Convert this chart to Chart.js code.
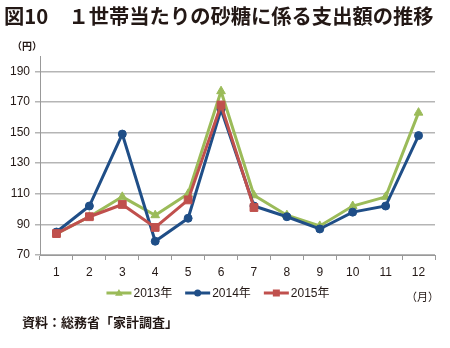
<!DOCTYPE html>
<html lang="ja">
<head>
<meta charset="utf-8">
<script src="https://cdn.jsdelivr.net/npm/chart.js@4.4.1/dist/chart.umd.min.js"></script>
<style>
  html, body { margin: 0; padding: 0; background: #fff; }
  body { width: 450px; height: 348px; position: relative; overflow: hidden;
         font-family: "Liberation Sans", "Noto Sans CJK JP", sans-serif; color: #231815; }
  #chart { position: absolute; left: 0; top: 0; }
  .txt { position: absolute; white-space: nowrap; line-height: 1; }
  #title { left: 4px; top: 5px; font-size: 20.3px; font-weight: bold; font-family: "Noto Sans CJK JP", sans-serif; }
  #unitY { left: 12px; top: 41px; font-size: 10px; font-weight: bold; font-family: "Noto Sans CJK JP", sans-serif; }
  #unitX { left: 406px; top: 291px; font-size: 11px; font-family: "Noto Sans CJK JP", sans-serif; }
  #source { left: 22px; top: 315px; font-size: 13px; font-weight: bold; font-family: "Noto Sans CJK JP", sans-serif; }
</style>
</head>
<body>
<canvas id="chart" width="450" height="348"></canvas>
<div class="txt" id="title">図10　１世帯当たりの砂糖に係る支出額の推移</div>
<div class="txt" id="unitY">（円）</div>
<div class="txt" id="unitX">（月）</div>
<div class="txt" id="source">資料：総務省「家計調査」</div>

<script>
// ============================================================
// 1世帯当たりの砂糖に係る支出額 (円/月)
// ============================================================

const months     = ['1', '2', '3', '4', '5', '6', '7', '8', '9', '10', '11', '12'];
const yTicks     = [70, 90, 110, 130, 150, 170, 190];
const seriesName = ['2013年', '2014年', '2015年'];
const sugar2013  = [84, 95, 108, 96, 110, 177, 109, 96, 89, 102, 108, 163];
const sugar2014  = [85, 102, 149, 79, 94, 165, 102, 95, 87, 98, 102, 148];
const sugar2015  = [84, 95, 103, 88, 106, 168, 101];

const FONT = '"Liberation Sans", "Noto Sans CJK JP", sans-serif';

// Excel-style legend: line with marker in the middle
function drawMarker(ctx, style, x, y, r, color) {
  ctx.fillStyle = color;
  ctx.beginPath();
  if (style === 'circle') {
    ctx.arc(x, y, r, 0, Math.PI * 2);
  } else if (style === 'rect') {
    ctx.rect(x - r, y - r, r * 2, r * 2);
  } else if (style === 'triangle') {
    ctx.moveTo(x, y - r * 1.15);
    ctx.lineTo(x + r * 1.1, y + r * 0.75);
    ctx.lineTo(x - r * 1.1, y + r * 0.75);
    ctx.closePath();
  }
  ctx.fill();
}

const lineLegend = {
  id: 'lineLegend',
  afterDraw(chart) {
    const ctx = chart.ctx;
    const y   = 293;
    ctx.save();
    ctx.font = '12px ' + FONT;
    ctx.textBaseline = 'middle';
    const widths = chart.data.datasets.map(d => 27 + ctx.measureText(d.label).width);
    const gap    = 13;
    const total  = widths.reduce((a, b) => a + b, 0) + gap * (widths.length - 1);
    let x = 218 - total / 2;
    chart.data.datasets.forEach((d, i) => {
      ctx.strokeStyle = d.borderColor;
      ctx.lineWidth = 3;
      ctx.beginPath();
      ctx.moveTo(x, y);
      ctx.lineTo(x + 25, y);
      ctx.stroke();
      drawMarker(ctx, d.pointStyle, x + 12.5, y, 3.5, d.borderColor);
      ctx.fillStyle = '#231815';
      ctx.fillText(d.label, x + 27, y + 1);
      x += widths[i] + gap;
    });
    ctx.restore();
  }
};

function series(label, data, color, style, radius, order) {
  return {
    label, data, order,
    borderColor: color, backgroundColor: color,
    pointBackgroundColor: color, pointBorderColor: color,
    borderWidth: 3, pointStyle: style, pointRadius: radius, pointBorderWidth: 1,
    tension: 0, fill: false
  };
}

new Chart(document.getElementById('chart'), {
  type: 'line',
  data: {
    labels: months,
    datasets: [
      series(seriesName[0], sugar2013, '#9bbb59', 'triangle', 5, 2),
      series(seriesName[1], sugar2014, '#1f4e87', 'circle', 4, 1),
      series(seriesName[2], sugar2015, '#c0504d', 'rect', 5.5, 0)
    ]
  },
  options: {
    responsive: false,
    animation: false,
    layout: { padding: { top: 56, right: 15, bottom: 68, left: 0 } },
    plugins: {
      legend:  { display: false },
      tooltip: { enabled: false }
    },
    scales: {
      x: {
        offset: true,
        grid: { offset: true, drawOnChartArea: false, drawTicks: true, tickLength: 5, color: '#999', lineWidth: 1 },
        border: { color: '#999', width: 1 },
        ticks: { color: '#231815', font: { family: FONT, size: 12 }, padding: 5, maxRotation: 0 },
        afterFit(s) { s.height = 25; }
      },
      y: {
        min: 70, max: 200,
        afterBuildTicks(s) { s.ticks = yTicks.map(v => ({ value: v })); },
        grid: { color: '#b5b5b5', lineWidth: 1.5, drawTicks: true, tickLength: 5 },
        border: { color: '#999', width: 1 },
        ticks: { color: '#231815', font: { family: FONT, size: 12 }, padding: 5 },
        afterFit(s) { s.width = 40; }
      }
    }
  },
  plugins: [lineLegend]
});
</script>
</body>
</html>
